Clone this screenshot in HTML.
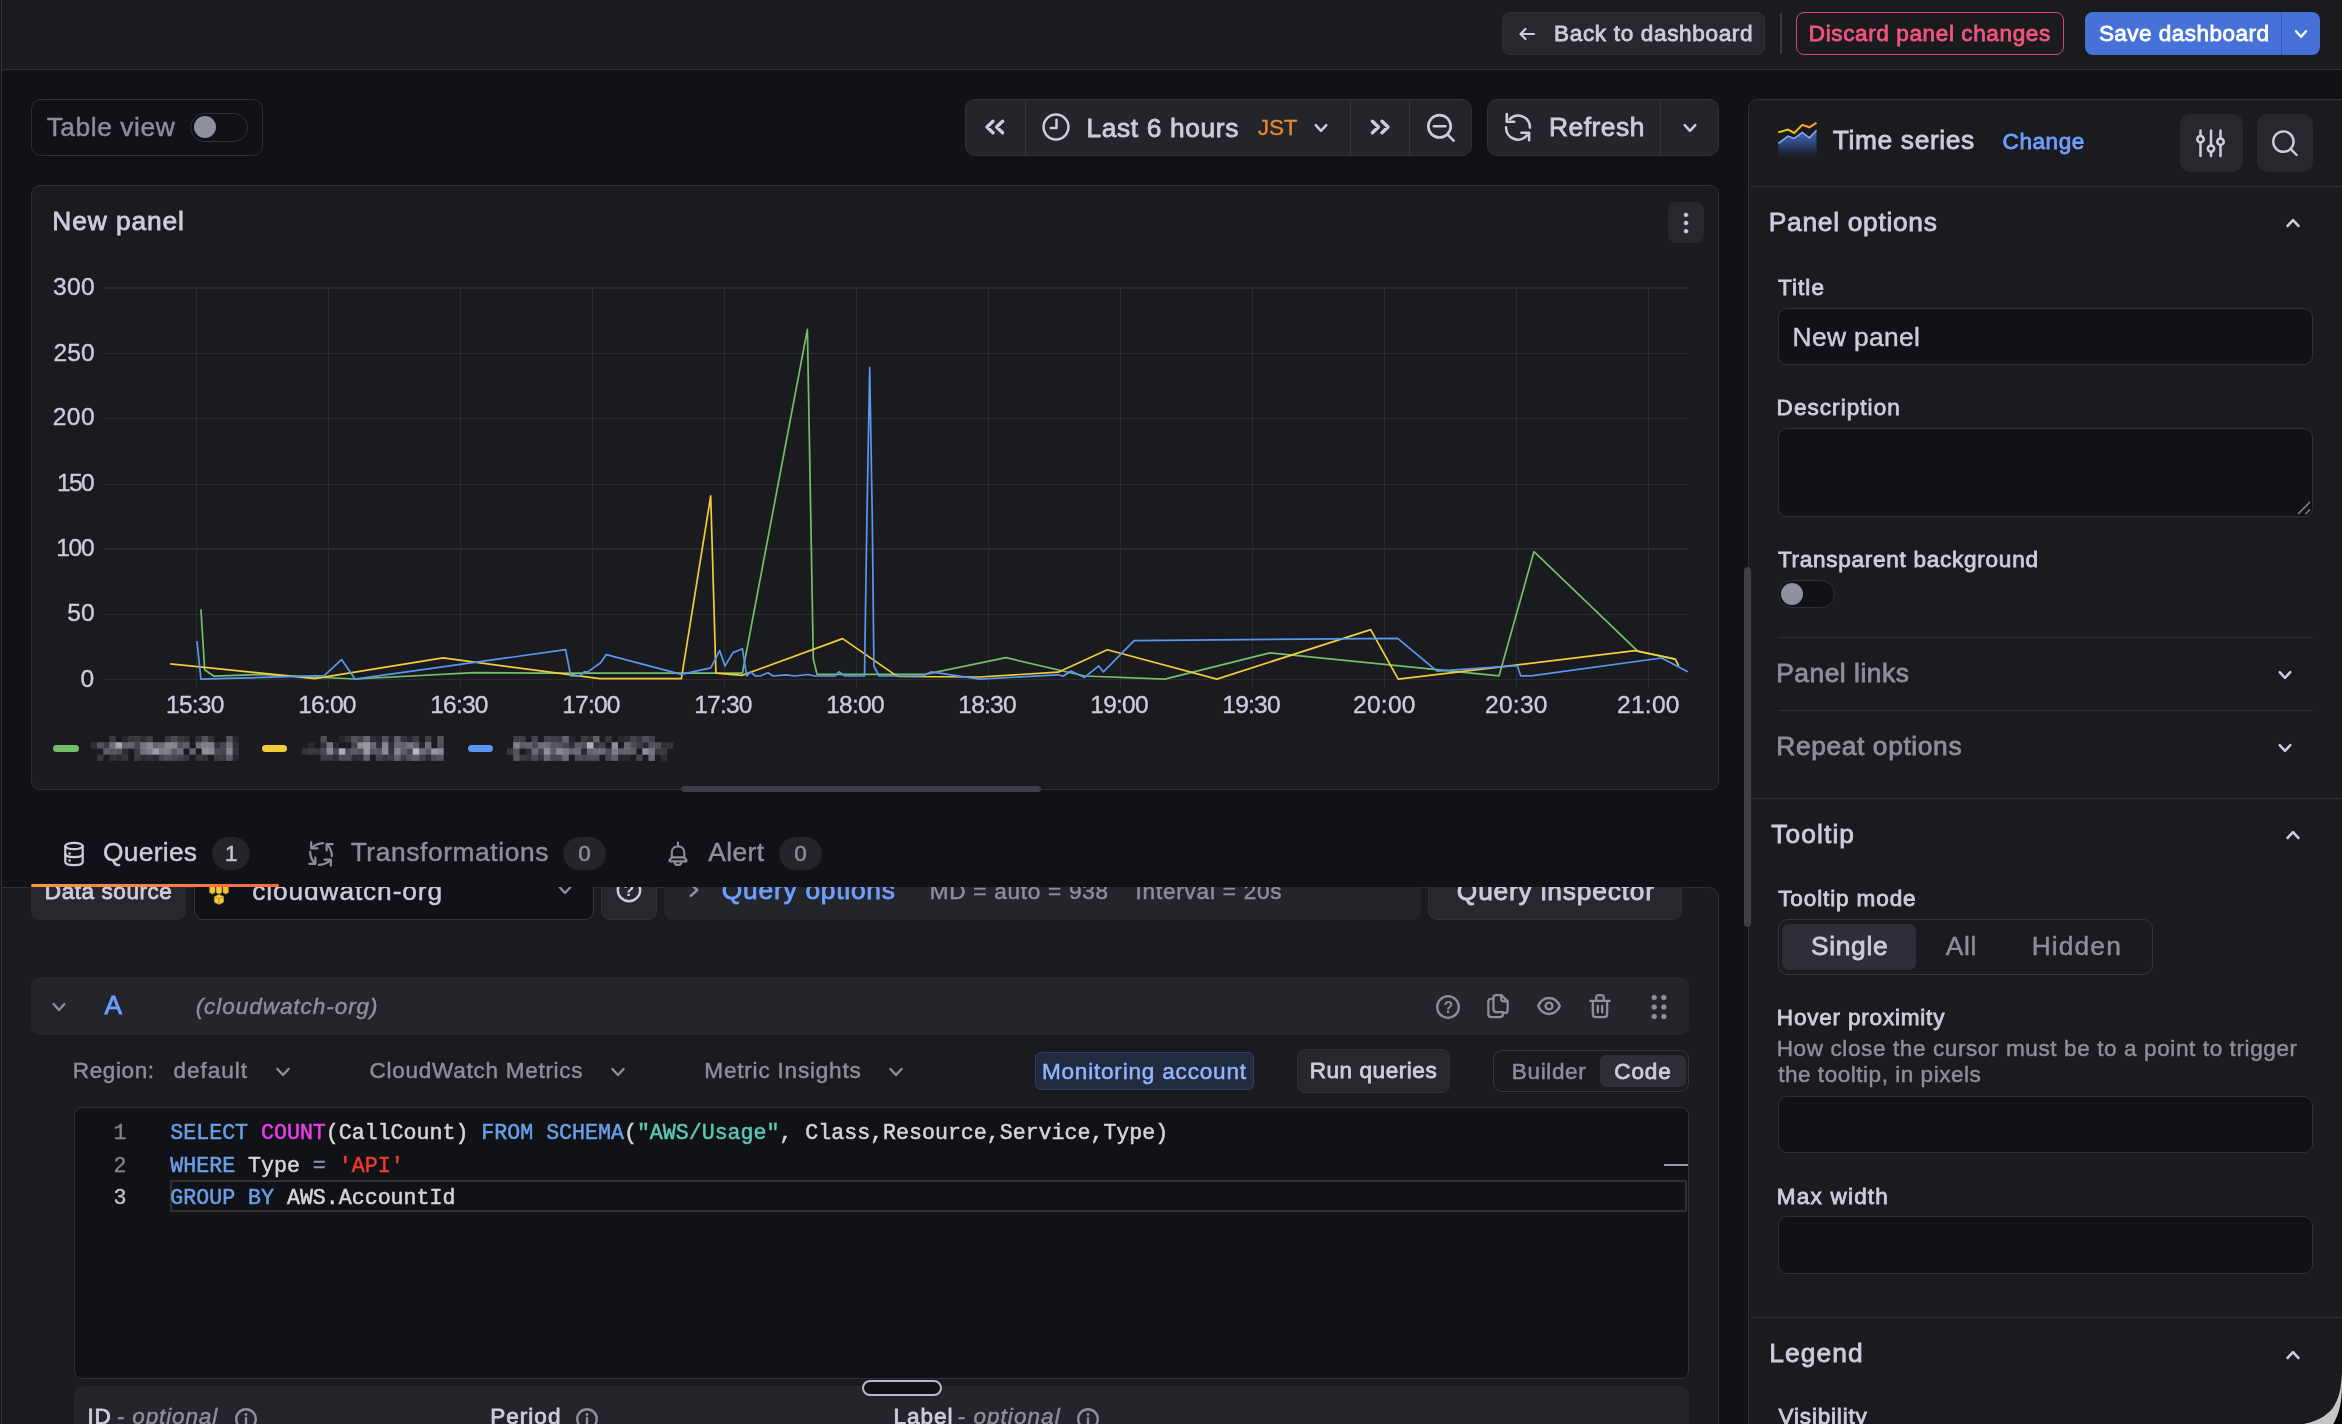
<!DOCTYPE html>
<html lang="en"><head><meta charset="utf-8"><title>Edit panel - Grafana</title><style>
html,body{margin:0;padding:0;background:#111217;}
body{width:2342px;height:1424px;overflow:hidden;position:relative;font-family:'Liberation Sans', sans-serif;}
.w{position:absolute;left:0;top:0;width:2342px;height:1424px;overflow:hidden;will-change:transform;}
.b{position:absolute;box-sizing:border-box;display:block;}
.t{position:absolute;white-space:pre;line-height:1;}
.clip{position:absolute;overflow:hidden;}
</style></head>
<body>
<div class="w">
<div class="b " style="left:1px;top:887px;width:1718px;height:557px;background:#1a1b1f;border:1px solid #2e2f36;border-radius:0 10px 0 0;"></div>
<div class="b " style="left:31px;top:860px;width:155px;height:60px;background:#27282e;border-radius:8px;"></div>
<div class="t" id="t0" style="top:881.00px;font-size:22.57px;color:#ccccdc;-webkit-text-stroke-width:0.8px;letter-spacing:0.541px;left:44.85px;">Data source</div>
<div class="b " style="left:194px;top:860px;width:400px;height:60px;background:#111217;border:1px solid #36373e;border-radius:9px;"></div>
<svg class="b" style="left:208px;top:876px;" width="22" height="30" viewBox="0 0 22 30"><g stroke="#c9981a" stroke-width="0.5"><path d="M1.6,0 h5.4 v16.6 l-2.7,1.5 l-2.7,-1.5z" fill="#f5c330"/><path d="M8.2,0 h5.6 v16.6 l-2.8,1.5 l-2.8,-1.5z" fill="#f7cb3c"/><path d="M15,0 h5.4 v16.6 l-2.7,1.5 l-2.7,-1.5z" fill="#f5c330"/><path d="M6.4,20.6 l4.6,-2.2 l4.6,2.2 v5.6 l-4.6,2.3 l-4.6,-2.3z" fill="#f7cb3c"/><path d="M6.4,20.6 l4.6,2.2 l4.6,-2.2 M11,22.8 v5.4" fill="none" stroke="#b98612" stroke-width="0.9"/></g></svg>
<div class="t" id="t1" style="top:878.00px;font-size:26.33px;color:#ccccdc;-webkit-text-stroke-width:0.45px;letter-spacing:0.871px;left:252.21px;">cloudwatch-org</div>
<svg class="b" style="left:545.0px;top:870.0px;overflow:visible" width="40" height="40" viewBox="-20.0 -20.0 40 40" fill="none" stroke="#8e8e9b" stroke-width="2.4" stroke-linecap="round" stroke-linejoin="round"><path d="M-5.4,-2.9700000000000006 L0,2.9700000000000006 L5.4,-2.9700000000000006"/></svg>
<div class="b " style="left:601px;top:860px;width:56px;height:60px;background:#27282e;border:1px solid #303138;border-radius:9px;"></div>
<svg class="b" style="left:609.0px;top:869.5px;overflow:visible" width="40" height="40" viewBox="-20.0 -20.0 40 40" fill="none" stroke="#ccccdc" stroke-width="2.4" stroke-linecap="round" stroke-linejoin="round"><circle cx="0" cy="0" r="11.2"/></svg>
<div class="t" id="t2" style="top:882.00px;font-size:17px;color:#ccccdc;font-weight:700;left:329.00px;width:600px;text-align:center;">?</div>
<div class="b " style="left:664px;top:860px;width:757px;height:60px;background:#24252b;border-radius:9px;"></div>
<svg class="b" style="left:673.5px;top:870.0px;overflow:visible" width="40" height="40" viewBox="-20.0 -20.0 40 40" fill="none" stroke="#8e8e9b" stroke-width="2.4" stroke-linecap="round" stroke-linejoin="round"><path d="M-3.3000000000000003,-6 L3.3000000000000003,0 L-3.3000000000000003,6"/></svg>
<div class="t" id="t3" style="top:877.00px;font-size:26.33px;color:#6e9fff;-webkit-text-stroke-width:0.8px;letter-spacing:0.766px;left:721.85px;">Query options</div>
<div class="t" id="t4" style="top:881.00px;font-size:22.57px;color:#8e8e9b;-webkit-text-stroke-width:0.45px;letter-spacing:0.736px;left:929.77px;">MD = auto = 938</div>
<div class="t" id="t5" style="top:881.00px;font-size:22.57px;color:#8e8e9b;-webkit-text-stroke-width:0.45px;letter-spacing:0.767px;left:1135.54px;">Interval = 20s</div>
<div class="b " style="left:1428px;top:860px;width:254px;height:60px;background:#27282e;border:1px solid #303138;border-radius:9px;"></div>
<div class="t" id="t6" style="top:878.00px;font-size:26.33px;color:#ccccdc;-webkit-text-stroke-width:0.8px;letter-spacing:0.810px;left:1456.85px;">Query inspector</div>
<div class="b " style="left:31px;top:977px;width:1658px;height:58px;background:#24252b;border-radius:9px;"></div>
<svg class="b" style="left:39.3px;top:986.5px;overflow:visible" width="40" height="40" viewBox="-20.0 -20.0 40 40" fill="none" stroke="#8e8e9b" stroke-width="2.4" stroke-linecap="round" stroke-linejoin="round"><path d="M-5.4,-2.9700000000000006 L0,2.9700000000000006 L5.4,-2.9700000000000006"/></svg>
<div class="t" id="t7" style="top:992.00px;font-size:26.33px;color:#6e9fff;-webkit-text-stroke-width:0.8px;left:104.55px;">A</div>
<div class="t" id="t8" style="top:996.00px;font-size:22.57px;color:#8e8e9b;-webkit-text-stroke-width:0.45px;font-style:italic;letter-spacing:0.928px;left:195.67px;">(cloudwatch-org)</div>
<svg class="b" style="left:1428.4px;top:986.5px;overflow:visible" width="40" height="40" viewBox="-20.0 -20.0 40 40" fill="none" stroke="#8e8e9b" stroke-width="2.3" stroke-linecap="round" stroke-linejoin="round"><circle cx="0" cy="0" r="10.8"/></svg>
<div class="t" id="t9" style="top:1000.00px;font-size:16px;color:#8e8e9b;font-weight:700;left:1148.40px;width:600px;text-align:center;">?</div>
<svg class="b" style="left:1478.3px;top:986.4px;overflow:visible" width="40" height="40" viewBox="-20.0 -20.0 40 40" fill="none" stroke="#8e8e9b" stroke-width="2.4" stroke-linecap="round" stroke-linejoin="round"><g transform="scale(0.93)"><path d="M-5,-8 V-8.5 C-5,-10.6 -3.8,-11.8 -1.8,-11.8 H3.6 L10.4,-5 V4.2 C10.4,6.3 9.2,7.5 7.2,7.5 H5.5"/><path d="M3.4,-11.6 V-7.8 C3.4,-5.9 4.4,-4.9 6.3,-4.9 H10.2"/><path d="M-10.4,-4.5 C-10.4,-6.6 -9.2,-7.8 -7.2,-7.8 H-4.9 V3.2 C-4.9,5.3 -3.7,6.5 -1.7,6.5 H5.4 V8.6 C5.4,10.7 4.2,11.9 2.2,11.9 H-7.2 C-9.2,11.9 -10.4,10.7 -10.4,8.6 Z"/></g></svg>
<svg class="b" style="left:1529.4px;top:986.4px;overflow:visible" width="40" height="40" viewBox="-20.0 -20.0 40 40" fill="none" stroke="#8e8e9b" stroke-width="2.4" stroke-linecap="round" stroke-linejoin="round"><path d="M-10.8,0 C-6,-10.6 6,-10.6 10.8,0 C6,10.6 -6,10.6 -10.8,0 Z"/><circle cx="0" cy="0" r="3.4"/></svg>
<svg class="b" style="left:1579.5px;top:986.4px;overflow:visible" width="40" height="40" viewBox="-20.0 -20.0 40 40" fill="none" stroke="#8e8e9b" stroke-width="2.5" stroke-linecap="round" stroke-linejoin="round"><g transform="scale(0.94)"><path d="M-10.2,-5.4 H10.2"/><path d="M-4,-5.6 V-9 C-4,-10.7 -3,-11.6 -1.4,-11.6 H1.4 C3,-11.6 4,-10.7 4,-9 V-5.6"/><path d="M-7.6,-5.2 V8.4 C-7.6,10.7 -6.4,11.9 -4.2,11.9 H4.2 C6.4,11.9 7.6,10.7 7.6,8.4 V-5.2"/><path d="M-2.3,-0.2 V6.6 M2.3,-0.2 V6.6"/></g></svg>
<svg class="b" style="left:1639.0px;top:987.0px;overflow:visible" width="40" height="40" viewBox="-20.0 -20.0 40 40" fill="#8e8e9b" stroke="#8e8e9b" stroke-width="0.3" stroke-linecap="round" stroke-linejoin="round"><circle cx="-4.8" cy="-9.5" r="2.5"/><circle cx="-4.8" cy="0" r="2.5"/><circle cx="-4.8" cy="9.5" r="2.5"/><circle cx="4.8" cy="-9.5" r="2.5"/><circle cx="4.8" cy="0" r="2.5"/><circle cx="4.8" cy="9.5" r="2.5"/></svg>
<div class="t" id="t10" style="top:1060.00px;font-size:22.57px;color:#8e8e9b;-webkit-text-stroke-width:0.45px;letter-spacing:0.599px;left:72.77px;">Region:</div>
<div class="t" id="t11" style="top:1060.00px;font-size:22.57px;color:#8e8e9b;-webkit-text-stroke-width:0.45px;letter-spacing:0.970px;left:173.38px;">default</div>
<svg class="b" style="left:262.5px;top:1051.5px;overflow:visible" width="40" height="40" viewBox="-20.0 -20.0 40 40" fill="none" stroke="#8e8e9b" stroke-width="2.3" stroke-linecap="round" stroke-linejoin="round"><path d="M-5.6,-3.08 L0,3.08 L5.6,-3.08"/></svg>
<div class="t" id="t12" style="top:1060.00px;font-size:22.57px;color:#8e8e9b;-webkit-text-stroke-width:0.45px;letter-spacing:0.705px;left:369.58px;">CloudWatch Metrics</div>
<svg class="b" style="left:597.5px;top:1051.5px;overflow:visible" width="40" height="40" viewBox="-20.0 -20.0 40 40" fill="none" stroke="#8e8e9b" stroke-width="2.3" stroke-linecap="round" stroke-linejoin="round"><path d="M-5.6,-3.08 L0,3.08 L5.6,-3.08"/></svg>
<div class="t" id="t13" style="top:1060.00px;font-size:22.57px;color:#8e8e9b;-webkit-text-stroke-width:0.45px;letter-spacing:0.784px;left:704.37px;">Metric Insights</div>
<svg class="b" style="left:875.6px;top:1051.5px;overflow:visible" width="40" height="40" viewBox="-20.0 -20.0 40 40" fill="none" stroke="#8e8e9b" stroke-width="2.3" stroke-linecap="round" stroke-linejoin="round"><path d="M-5.6,-3.08 L0,3.08 L5.6,-3.08"/></svg>
<div class="b " style="left:1035px;top:1052px;width:219px;height:38px;background:#212a3f;border:1px solid #2e3e66;border-radius:6px;"></div>
<div class="t" id="t14" style="top:1061.00px;font-size:22.57px;color:#93b5ff;-webkit-text-stroke-width:0.5px;letter-spacing:0.793px;left:1041.90px;">Monitoring account</div>
<div class="b " style="left:1297px;top:1049px;width:153px;height:44px;background:#27282e;border:1px solid #303138;border-radius:8px;"></div>
<div class="t" id="t15" style="top:1060.00px;font-size:22.57px;color:#ccccdc;-webkit-text-stroke-width:0.8px;letter-spacing:0.541px;left:1309.65px;">Run queries</div>
<div class="b " style="left:1493px;top:1050px;width:196px;height:42px;border:1px solid #36373e;border-radius:9px;"></div>
<div class="t" id="t16" style="top:1061.00px;font-size:22.57px;color:#8e8e9b;-webkit-text-stroke-width:0.5px;letter-spacing:0.616px;left:1511.80px;">Builder</div>
<div class="b " style="left:1600px;top:1055px;width:86px;height:32px;background:#2e2f36;border-radius:6px;"></div>
<div class="t" id="t17" style="top:1061.00px;font-size:22.57px;color:#ccccdc;-webkit-text-stroke-width:0.8px;letter-spacing:0.870px;left:1614.25px;">Code</div>
<div class="b " style="left:74px;top:1107px;width:1615px;height:272px;background:#111217;border:1px solid #303138;border-radius:8px;"></div>
<div class="b " style="left:170px;top:1180px;width:1517px;height:32px;border:2px solid #303033;"></div>
<div class="t" id="t18" style="top:1123.00px;font-size:21.6px;color:#d6d6d6;font-family:'Liberation Mono', monospace;-webkit-text-stroke-width:0.5px;left:170.30px;"><span style="color:#6a9fe6">SELECT</span> <span style="color:#e83fe8">COUNT</span><span style="color:#d6d6d6">(CallCount) </span><span style="color:#6a9fe6">FROM</span> <span style="color:#6a9fe6">SCHEMA</span><span style="color:#d6d6d6">(</span><span style="color:#5ec9ad">&quot;AWS/Usage&quot;</span><span style="color:#d6d6d6">, Class,Resource,Service,Type)</span></div>
<div class="t" id="t19" style="top:1123.00px;font-size:21.6px;color:#858585;font-family:'Liberation Mono', monospace;-webkit-text-stroke-width:0.3px;right:2215.50px;">1</div>
<div class="t" id="t20" style="top:1156.00px;font-size:21.6px;color:#d6d6d6;font-family:'Liberation Mono', monospace;-webkit-text-stroke-width:0.5px;left:170.30px;"><span style="color:#6a9fe6">WHERE</span><span style="color:#d6d6d6"> Type </span><span style="color:#8a95a5">=</span> <span style="color:#f2392c">'API'</span></div>
<div class="t" id="t21" style="top:1156.00px;font-size:21.6px;color:#858585;font-family:'Liberation Mono', monospace;-webkit-text-stroke-width:0.3px;right:2215.50px;">2</div>
<div class="t" id="t22" style="top:1188.00px;font-size:21.6px;color:#d6d6d6;font-family:'Liberation Mono', monospace;-webkit-text-stroke-width:0.5px;left:170.30px;"><span style="color:#6a9fe6">GROUP BY</span><span style="color:#d6d6d6"> AWS.AccountId</span></div>
<div class="t" id="t23" style="top:1188.00px;font-size:21.6px;color:#c6c6c6;font-family:'Liberation Mono', monospace;-webkit-text-stroke-width:0.3px;right:2215.50px;">3</div>
<div class="b " style="left:1664px;top:1164px;width:24px;height:2px;background:#9a9aa6;"></div>
<div class="b " style="left:74px;top:1386px;width:1615px;height:58px;background:#24252b;border-radius:9px;"></div>
<div class="t" id="t24" style="top:1406.00px;font-size:22.57px;color:#ccccdc;-webkit-text-stroke-width:0.8px;letter-spacing:0.800px;left:87.42px;">ID</div>
<div class="t" id="t25" style="top:1406.00px;font-size:22.57px;color:#8e8e9b;-webkit-text-stroke-width:0.45px;font-style:italic;letter-spacing:0.854px;left:116.77px;">- optional</div>
<div class="t" id="t26" style="top:1406.00px;font-size:22.57px;color:#ccccdc;-webkit-text-stroke-width:0.8px;letter-spacing:0.997px;left:490.25px;">Period</div>
<div class="t" id="t27" style="top:1406.00px;font-size:22.57px;color:#ccccdc;-webkit-text-stroke-width:0.8px;letter-spacing:0.939px;left:893.55px;">Label</div>
<div class="t" id="t28" style="top:1406.00px;font-size:22.57px;color:#8e8e9b;-webkit-text-stroke-width:0.45px;font-style:italic;letter-spacing:1.031px;left:957.57px;">- optional</div>
<svg class="b" style="left:225.5px;top:1398.6px;overflow:visible" width="40" height="40" viewBox="-20.0 -20.0 40 40" fill="none" stroke="#8e8e9b" stroke-width="2.4" stroke-linecap="round" stroke-linejoin="round"><circle cx="0" cy="0" r="9.8"/><path d="M0,-1 V5"/><path d="M0,-4.6 v0.1" stroke-width="2.8"/></svg>
<svg class="b" style="left:566.8px;top:1398.6px;overflow:visible" width="40" height="40" viewBox="-20.0 -20.0 40 40" fill="none" stroke="#8e8e9b" stroke-width="2.4" stroke-linecap="round" stroke-linejoin="round"><circle cx="0" cy="0" r="9.8"/><path d="M0,-1 V5"/><path d="M0,-4.6 v0.1" stroke-width="2.8"/></svg>
<svg class="b" style="left:1067.6px;top:1398.6px;overflow:visible" width="40" height="40" viewBox="-20.0 -20.0 40 40" fill="none" stroke="#8e8e9b" stroke-width="2.4" stroke-linecap="round" stroke-linejoin="round"><circle cx="0" cy="0" r="9.8"/><path d="M0,-1 V5"/><path d="M0,-4.6 v0.1" stroke-width="2.8"/></svg>
<div class="b " style="left:862px;top:1380px;width:80px;height:16px;background:#111217;border:2px solid #b9b9c6;border-radius:8px;"></div>
<div class="b " style="left:0px;top:0px;width:2342px;height:70px;background:#1a1b1f;border-bottom:1px solid #2e2f36;"></div>
<div class="b " style="left:0px;top:0px;width:3px;height:1424px;border-right:1px solid #2f3037;background:#16171b;width:2px;"></div>
<div class="b " style="left:1502px;top:12px;width:263px;height:43px;background:#27282e;border:1px solid #303138;border-radius:8px;"></div>
<svg class="b" style="left:1507.0px;top:13.5px;overflow:visible" width="40" height="40" viewBox="-20.0 -20.0 40 40" fill="none" stroke="#ccccdc" stroke-width="2.2" stroke-linecap="round" stroke-linejoin="round"><path d="M7,0 H-6.5 M-1.5,-5 L-6.5,0 L-1.5,5"/></svg>
<div class="t" id="t29" style="top:23.00px;font-size:22.57px;color:#ccccdc;-webkit-text-stroke-width:0.8px;letter-spacing:0.648px;left:1554.05px;">Back to dashboard</div>
<div class="b " style="left:1780px;top:13px;width:2px;height:41px;background:#3a3b42;"></div>
<div class="b " style="left:1796px;top:12px;width:268px;height:43px;border:1px solid #d9456f;border-radius:8px;"></div>
<div class="t" id="t30" style="top:23.00px;font-size:22.57px;color:#f2557f;-webkit-text-stroke-width:0.8px;letter-spacing:0.592px;left:1808.85px;">Discard panel changes</div>
<div class="b " style="left:2085px;top:12px;width:235px;height:43px;background:#4671d6;border-radius:8px;"></div>
<div class="b " style="left:2281px;top:12px;width:1px;height:43px;background:#3459b3;"></div>
<div class="t" id="t31" style="top:23.00px;font-size:22.57px;color:#ffffff;-webkit-text-stroke-width:0.8px;letter-spacing:0.450px;left:2098.88px;">Save dashboard</div>
<svg class="b" style="left:2281.0px;top:14.0px;overflow:visible" width="40" height="40" viewBox="-20.0 -20.0 40 40" fill="none" stroke="#ffffff" stroke-width="2.4" stroke-linecap="round" stroke-linejoin="round"><path d="M-5,-2.75 L0,2.75 L5,-2.75"/></svg>
<div class="b " style="left:31px;top:99px;width:232px;height:57px;border:1px solid #2e2f36;border-radius:10px;"></div>
<div class="t" id="t32" style="top:114.00px;font-size:26.33px;color:#8e8e9b;-webkit-text-stroke-width:0.45px;letter-spacing:0.573px;left:46.63px;">Table view</div>
<div class="b " style="left:190px;top:113px;width:58px;height:29px;background:#111217;border:1px solid #303138;border-radius:15px;"></div>
<div class="b " style="left:194px;top:116px;width:22px;height:22px;background:#8f909d;border-radius:11px;"></div>
<div class="b " style="left:965px;top:99px;width:507px;height:57px;background:#24252b;border:1px solid #303138;border-radius:10px;"></div>
<div class="b " style="left:1025px;top:100px;width:1px;height:55px;background:#36373e;"></div>
<div class="b " style="left:1350px;top:100px;width:1px;height:55px;background:#36373e;"></div>
<div class="b " style="left:1409px;top:100px;width:1px;height:55px;background:#36373e;"></div>
<svg class="b" style="left:974.5px;top:107.3px;overflow:visible" width="40" height="40" viewBox="-20.0 -20.0 40 40" fill="none" stroke="#ccccdc" stroke-width="3.4" stroke-linecap="round" stroke-linejoin="round"><path d="M-2,-5.8 L-8,0 L-2,5.8 M7.6,-5.8 L1.6,0 L7.6,5.8"/></svg>
<svg class="b" style="left:1036.2px;top:107.1px;overflow:visible" width="40" height="40" viewBox="-20.0 -20.0 40 40" fill="none" stroke="#ccccdc" stroke-width="2.5" stroke-linecap="round" stroke-linejoin="round"><circle cx="0" cy="0" r="12.4"/><path d="M0.5,-7.3 V1 H-5.2"/></svg>
<div class="t" id="t33" style="top:115.00px;font-size:26.33px;color:#ccccdc;-webkit-text-stroke-width:0.8px;letter-spacing:0.638px;left:1086.44px;">Last 6 hours</div>
<div class="t" id="t34" style="top:117.00px;font-size:22.57px;color:#e8882f;-webkit-text-stroke-width:0.3px;letter-spacing:-0.171px;left:1257.80px;">JST</div>
<svg class="b" style="left:1300.5px;top:107.8px;overflow:visible" width="40" height="40" viewBox="-20.0 -20.0 40 40" fill="none" stroke="#ccccdc" stroke-width="2.4" stroke-linecap="round" stroke-linejoin="round"><path d="M-5.3,-2.915 L0,2.915 L5.3,-2.915"/></svg>
<svg class="b" style="left:1359.7px;top:107.3px;overflow:visible" width="40" height="40" viewBox="-20.0 -20.0 40 40" fill="none" stroke="#ccccdc" stroke-width="3.4" stroke-linecap="round" stroke-linejoin="round"><path d="M2,-5.8 L8,0 L2,5.8 M-7.6,-5.8 L-1.6,0 L-7.6,5.8"/></svg>
<svg class="b" style="left:1421.0px;top:107.5px;overflow:visible" width="40" height="40" viewBox="-20.0 -20.0 40 40" fill="none" stroke="#ccccdc" stroke-width="2.6" stroke-linecap="round" stroke-linejoin="round"><circle cx="-1.5" cy="-1.7" r="11.2"/><path d="M7,7 L12.6,12.6 M-7.2,-1.7 H4.5"/></svg>
<div class="b " style="left:1487px;top:99px;width:232px;height:57px;background:#24252b;border:1px solid #303138;border-radius:10px;"></div>
<div class="b " style="left:1660px;top:100px;width:1px;height:55px;background:#36373e;"></div>
<svg class="b" style="left:1498.3px;top:106.9px;overflow:visible" width="40" height="40" viewBox="-20.0 -20.0 40 40" fill="none" stroke="#ccccdc" stroke-width="2.6" stroke-linecap="round" stroke-linejoin="round"><path d="M-8.2,-7.9 A11.8,11.8 0 0 1 11.9,0.6"/><path d="M8.9,8.4 A11.8,11.8 0 0 1 -11.9,0.4"/><path d="M-11.2,-13 V-5.2 H-3.8"/><path d="M11.1,13.2 V5.7 H3.4"/></svg>
<div class="t" id="t35" style="top:114.00px;font-size:26.33px;color:#ccccdc;-webkit-text-stroke-width:0.8px;letter-spacing:0.514px;left:1549.04px;">Refresh</div>
<svg class="b" style="left:1669.5px;top:107.8px;overflow:visible" width="40" height="40" viewBox="-20.0 -20.0 40 40" fill="none" stroke="#ccccdc" stroke-width="2.4" stroke-linecap="round" stroke-linejoin="round"><path d="M-5.3,-2.915 L0,2.915 L5.3,-2.915"/></svg>
<div class="b " style="left:31px;top:185px;width:1688px;height:605px;background:#1a1b1f;border:1px solid #2e2f36;border-radius:9px;"></div>
<div class="t" id="t36" style="top:208.00px;font-size:26.33px;color:#ccccdc;-webkit-text-stroke-width:0.8px;letter-spacing:0.915px;left:52.24px;">New panel</div>
<div class="b " style="left:1668px;top:202px;width:36px;height:41px;background:#27282e;border-radius:8px;"></div>
<svg class="b" style="left:1666.0px;top:202.7px;overflow:visible" width="40" height="40" viewBox="-20.0 -20.0 40 40" fill="#ccccdc" stroke="#ccccdc" stroke-width="0.6" stroke-linecap="round" stroke-linejoin="round"><circle cx="0" cy="-8.2" r="1.9"/><circle cx="0" cy="0" r="1.9"/><circle cx="0" cy="8.2" r="1.9"/></svg>
<svg class="b" style="left:0px;top:260px;" width="1720" height="440" viewBox="0 260 1720 440"><g stroke="#2a2b31" stroke-width="1.1" fill="none" shape-rendering="crispEdges"><line x1="104" y1="288.0" x2="1688" y2="288.0"/><line x1="104" y1="353.3" x2="1688" y2="353.3"/><line x1="104" y1="418.1" x2="1688" y2="418.1"/><line x1="104" y1="484.1" x2="1688" y2="484.1"/><line x1="104" y1="549.0" x2="1688" y2="549.0"/><line x1="104" y1="614.2" x2="1688" y2="614.2"/><line x1="104" y1="679.4" x2="1688" y2="679.4"/><line x1="196.1" y1="288" x2="196.1" y2="687"/><line x1="328.1" y1="288" x2="328.1" y2="687"/><line x1="460.2" y1="288" x2="460.2" y2="687"/><line x1="592.2" y1="288" x2="592.2" y2="687"/><line x1="724.2" y1="288" x2="724.2" y2="687"/><line x1="856.2" y1="288" x2="856.2" y2="687"/><line x1="988.3" y1="288" x2="988.3" y2="687"/><line x1="1120.3" y1="288" x2="1120.3" y2="687"/><line x1="1252.3" y1="288" x2="1252.3" y2="687"/><line x1="1384.4" y1="288" x2="1384.4" y2="687"/><line x1="1516.4" y1="288" x2="1516.4" y2="687"/><line x1="1648.4" y1="288" x2="1648.4" y2="687"/></g><polyline points="200.9,609.4 204.7,669.7 214.0,676.2 259.3,674.4 355.0,679.0 474.5,672.7 540.0,673.1 742.4,673.1 807.4,329.4 813.3,658.6 817.0,674.4 864.5,674.4 925.0,674.4 1006.0,657.7 1084.6,676.0 1164.8,679.1 1269.9,652.9 1499.0,675.9 1534.0,551.6 1637.7,651.2 1675.3,659.2" fill="none" stroke="#73bf69" stroke-width="1.7" stroke-linejoin="round" stroke-linecap="butt"/><polyline points="170.2,663.9 314.8,678.7 442.9,657.9 599.8,678.7 681.4,678.7 710.7,495.9 715.9,673.1 742.4,675.3 842.6,638.6 894.4,674.4 898.7,676.5 979.5,677.0 1058.1,672.2 1107.3,649.7 1216.9,679.1 1370.7,629.6 1398.2,679.2 1635.1,650.7 1675.3,659.2 1678.7,666.0" fill="none" stroke="#f2cd3a" stroke-width="1.7" stroke-linejoin="round" stroke-linecap="butt"/><polyline points="197.0,641.1 200.9,679.1 324.2,675.6 341.6,659.6 355.0,679.1 565.6,649.7 570.7,676.0 579.3,676.0 584.1,671.9 587.8,671.9 600.6,662.8 606.3,654.6 681.4,674.4 710.8,667.8 719.7,650.7 725.0,665.9 733.0,652.6 742.4,648.7 746.7,676.0 750.4,671.9 755.5,676.0 760.0,676.0 768.0,672.7 773.1,676.0 786.0,674.8 795.0,676.0 808.0,674.5 815.0,676.0 835.0,676.0 838.9,671.7 845.0,676.0 864.5,676.0 866.9,520.0 869.7,367.3 872.3,520.0 873.9,666.2 879.0,676.0 922.6,676.0 931.1,671.9 979.5,679.1 1058.1,674.8 1063.2,676.2 1070.9,671.0 1084.6,677.4 1098.7,665.9 1103.4,671.9 1134.1,640.6 1397.7,638.4 1437.0,671.2 1517.3,665.7 1520.7,675.8 1530.9,675.8 1661.6,658.0 1687.7,671.7" fill="none" stroke="#5b96f0" stroke-width="1.7" stroke-linejoin="round" stroke-linecap="butt"/></svg>
<div class="t" id="t37" style="top:275.00px;font-size:24.56px;color:#ccccdc;-webkit-text-stroke-width:0.35px;letter-spacing:0.395px;left:52.94px;">300</div>
<div class="t" id="t38" style="top:341.00px;font-size:24.56px;color:#ccccdc;-webkit-text-stroke-width:0.35px;letter-spacing:0.145px;left:53.44px;">250</div>
<div class="t" id="t39" style="top:405.00px;font-size:24.56px;color:#ccccdc;-webkit-text-stroke-width:0.35px;letter-spacing:0.545px;left:52.64px;">200</div>
<div class="t" id="t40" style="top:471.00px;font-size:24.56px;color:#ccccdc;-webkit-text-stroke-width:0.35px;letter-spacing:-1.588px;left:56.90px;">150</div>
<div class="t" id="t41" style="top:536.00px;font-size:24.56px;color:#ccccdc;-webkit-text-stroke-width:0.35px;letter-spacing:-1.238px;left:56.20px;">100</div>
<div class="t" id="t42" style="top:601.00px;font-size:24.56px;color:#ccccdc;-webkit-text-stroke-width:0.35px;letter-spacing:0.089px;left:67.29px;">50</div>
<div class="t" id="t43" style="top:667.00px;font-size:24.56px;color:#ccccdc;-webkit-text-stroke-width:0.35px;left:80.62px;">0</div>
<div class="t" id="t44" style="top:693.00px;font-size:24.56px;color:#ccccdc;-webkit-text-stroke-width:0.35px;letter-spacing:-0.787px;left:166.10px;">15:30</div>
<div class="t" id="t45" style="top:693.00px;font-size:24.56px;color:#ccccdc;-webkit-text-stroke-width:0.35px;letter-spacing:-0.787px;left:298.13px;">16:00</div>
<div class="t" id="t46" style="top:693.00px;font-size:24.56px;color:#ccccdc;-webkit-text-stroke-width:0.35px;letter-spacing:-0.787px;left:430.16px;">16:30</div>
<div class="t" id="t47" style="top:693.00px;font-size:24.56px;color:#ccccdc;-webkit-text-stroke-width:0.35px;letter-spacing:-0.787px;left:562.19px;">17:00</div>
<div class="t" id="t48" style="top:693.00px;font-size:24.56px;color:#ccccdc;-webkit-text-stroke-width:0.35px;letter-spacing:-0.787px;left:694.22px;">17:30</div>
<div class="t" id="t49" style="top:693.00px;font-size:24.56px;color:#ccccdc;-webkit-text-stroke-width:0.35px;letter-spacing:-0.787px;left:826.25px;">18:00</div>
<div class="t" id="t50" style="top:693.00px;font-size:24.56px;color:#ccccdc;-webkit-text-stroke-width:0.35px;letter-spacing:-0.787px;left:958.28px;">18:30</div>
<div class="t" id="t51" style="top:693.00px;font-size:24.56px;color:#ccccdc;-webkit-text-stroke-width:0.35px;letter-spacing:-0.787px;left:1090.31px;">19:00</div>
<div class="t" id="t52" style="top:693.00px;font-size:24.56px;color:#ccccdc;-webkit-text-stroke-width:0.35px;letter-spacing:-0.787px;left:1222.34px;">19:30</div>
<div class="t" id="t53" style="top:693.00px;font-size:24.56px;color:#ccccdc;-webkit-text-stroke-width:0.35px;letter-spacing:0.254px;left:1353.01px;">20:00</div>
<div class="t" id="t54" style="top:693.00px;font-size:24.56px;color:#ccccdc;-webkit-text-stroke-width:0.35px;letter-spacing:0.254px;left:1485.04px;">20:30</div>
<div class="t" id="t55" style="top:693.00px;font-size:24.56px;color:#ccccdc;-webkit-text-stroke-width:0.35px;letter-spacing:0.254px;left:1617.07px;">21:00</div>
<div class="b " style="left:53px;top:745px;width:26px;height:7px;background:#73bf69;border-radius:3.5px;"></div>
<svg class="b" style="left:91px;top:735.7px;" width="152" height="26" viewBox="0 0 152 26"><rect x="0.0" y="6.2" width="6.4" height="6.4" fill="rgba(204,204,220,0.13)"/><rect x="6.2" y="6.2" width="6.4" height="6.4" fill="rgba(204,204,220,0.32)"/><rect x="6.2" y="18.5" width="6.4" height="6.4" fill="rgba(204,204,220,0.16)"/><rect x="12.3" y="6.2" width="6.4" height="6.4" fill="rgba(204,204,220,0.20)"/><rect x="12.3" y="12.3" width="6.4" height="6.4" fill="rgba(204,204,220,0.39)"/><rect x="18.5" y="0.0" width="6.4" height="6.4" fill="rgba(204,204,220,0.18)"/><rect x="18.5" y="6.2" width="6.4" height="6.4" fill="rgba(204,204,220,0.49)"/><rect x="18.5" y="12.3" width="6.4" height="6.4" fill="rgba(204,204,220,0.33)"/><rect x="18.5" y="18.5" width="6.4" height="6.4" fill="rgba(204,204,220,0.13)"/><rect x="24.6" y="6.2" width="6.4" height="6.4" fill="rgba(204,204,220,0.78)"/><rect x="24.6" y="12.3" width="6.4" height="6.4" fill="rgba(204,204,220,0.31)"/><rect x="24.6" y="18.5" width="6.4" height="6.4" fill="rgba(204,204,220,0.09)"/><rect x="30.8" y="0.0" width="6.4" height="6.4" fill="rgba(204,204,220,0.08)"/><rect x="30.8" y="6.2" width="6.4" height="6.4" fill="rgba(204,204,220,0.39)"/><rect x="30.8" y="12.3" width="6.4" height="6.4" fill="rgba(204,204,220,0.10)"/><rect x="30.8" y="18.5" width="6.4" height="6.4" fill="rgba(204,204,220,0.17)"/><rect x="36.9" y="0.0" width="6.4" height="6.4" fill="rgba(204,204,220,0.16)"/><rect x="36.9" y="6.2" width="6.4" height="6.4" fill="rgba(204,204,220,0.42)"/><rect x="43.1" y="0.0" width="6.4" height="6.4" fill="rgba(204,204,220,0.19)"/><rect x="43.1" y="6.2" width="6.4" height="6.4" fill="rgba(204,204,220,0.24)"/><rect x="43.1" y="12.3" width="6.4" height="6.4" fill="rgba(204,204,220,0.19)"/><rect x="43.1" y="18.5" width="6.4" height="6.4" fill="rgba(204,204,220,0.18)"/><rect x="49.2" y="0.0" width="6.4" height="6.4" fill="rgba(204,204,220,0.11)"/><rect x="49.2" y="6.2" width="6.4" height="6.4" fill="rgba(204,204,220,0.51)"/><rect x="49.2" y="12.3" width="6.4" height="6.4" fill="rgba(204,204,220,0.48)"/><rect x="49.2" y="18.5" width="6.4" height="6.4" fill="rgba(204,204,220,0.10)"/><rect x="55.4" y="0.0" width="6.4" height="6.4" fill="rgba(204,204,220,0.20)"/><rect x="55.4" y="6.2" width="6.4" height="6.4" fill="rgba(204,204,220,0.61)"/><rect x="55.4" y="12.3" width="6.4" height="6.4" fill="rgba(204,204,220,0.55)"/><rect x="55.4" y="18.5" width="6.4" height="6.4" fill="rgba(204,204,220,0.13)"/><rect x="61.5" y="6.2" width="6.4" height="6.4" fill="rgba(204,204,220,0.41)"/><rect x="61.5" y="12.3" width="6.4" height="6.4" fill="rgba(204,204,220,0.73)"/><rect x="61.5" y="18.5" width="6.4" height="6.4" fill="rgba(204,204,220,0.09)"/><rect x="67.7" y="6.2" width="6.4" height="6.4" fill="rgba(204,204,220,0.45)"/><rect x="67.7" y="12.3" width="6.4" height="6.4" fill="rgba(204,204,220,0.54)"/><rect x="67.7" y="18.5" width="6.4" height="6.4" fill="rgba(204,204,220,0.23)"/><rect x="73.8" y="0.0" width="6.4" height="6.4" fill="rgba(204,204,220,0.16)"/><rect x="73.8" y="6.2" width="6.4" height="6.4" fill="rgba(204,204,220,0.61)"/><rect x="73.8" y="12.3" width="6.4" height="6.4" fill="rgba(204,204,220,0.55)"/><rect x="73.8" y="18.5" width="6.4" height="6.4" fill="rgba(204,204,220,0.30)"/><rect x="80.0" y="0.0" width="6.4" height="6.4" fill="rgba(204,204,220,0.28)"/><rect x="80.0" y="6.2" width="6.4" height="6.4" fill="rgba(204,204,220,0.60)"/><rect x="80.0" y="12.3" width="6.4" height="6.4" fill="rgba(204,204,220,0.34)"/><rect x="80.0" y="18.5" width="6.4" height="6.4" fill="rgba(204,204,220,0.25)"/><rect x="86.1" y="0.0" width="6.4" height="6.4" fill="rgba(204,204,220,0.17)"/><rect x="86.1" y="6.2" width="6.4" height="6.4" fill="rgba(204,204,220,0.29)"/><rect x="86.1" y="12.3" width="6.4" height="6.4" fill="rgba(204,204,220,0.46)"/><rect x="86.1" y="18.5" width="6.4" height="6.4" fill="rgba(204,204,220,0.21)"/><rect x="92.2" y="0.0" width="6.4" height="6.4" fill="rgba(204,204,220,0.12)"/><rect x="92.2" y="6.2" width="6.4" height="6.4" fill="rgba(204,204,220,0.38)"/><rect x="92.2" y="18.5" width="6.4" height="6.4" fill="rgba(204,204,220,0.16)"/><rect x="98.4" y="12.3" width="6.4" height="6.4" fill="rgba(204,204,220,0.41)"/><rect x="104.6" y="0.0" width="6.4" height="6.4" fill="rgba(204,204,220,0.12)"/><rect x="104.6" y="6.2" width="6.4" height="6.4" fill="rgba(204,204,220,0.47)"/><rect x="104.6" y="18.5" width="6.4" height="6.4" fill="rgba(204,204,220,0.15)"/><rect x="110.7" y="0.0" width="6.4" height="6.4" fill="rgba(204,204,220,0.32)"/><rect x="110.7" y="6.2" width="6.4" height="6.4" fill="rgba(204,204,220,0.57)"/><rect x="110.7" y="12.3" width="6.4" height="6.4" fill="rgba(204,204,220,0.63)"/><rect x="110.7" y="18.5" width="6.4" height="6.4" fill="rgba(204,204,220,0.12)"/><rect x="116.9" y="0.0" width="6.4" height="6.4" fill="rgba(204,204,220,0.13)"/><rect x="116.9" y="6.2" width="6.4" height="6.4" fill="rgba(204,204,220,0.55)"/><rect x="116.9" y="12.3" width="6.4" height="6.4" fill="rgba(204,204,220,0.62)"/><rect x="123.0" y="6.2" width="6.4" height="6.4" fill="rgba(204,204,220,0.13)"/><rect x="123.0" y="12.3" width="6.4" height="6.4" fill="rgba(204,204,220,0.27)"/><rect x="123.0" y="18.5" width="6.4" height="6.4" fill="rgba(204,204,220,0.18)"/><rect x="129.2" y="6.2" width="6.4" height="6.4" fill="rgba(204,204,220,0.25)"/><rect x="129.2" y="12.3" width="6.4" height="6.4" fill="rgba(204,204,220,0.23)"/><rect x="129.2" y="18.5" width="6.4" height="6.4" fill="rgba(204,204,220,0.19)"/><rect x="135.3" y="0.0" width="6.4" height="6.4" fill="rgba(204,204,220,0.33)"/><rect x="135.3" y="6.2" width="6.4" height="6.4" fill="rgba(204,204,220,0.48)"/><rect x="135.3" y="12.3" width="6.4" height="6.4" fill="rgba(204,204,220,0.60)"/><rect x="135.3" y="18.5" width="6.4" height="6.4" fill="rgba(204,204,220,0.36)"/><rect x="141.5" y="0.0" width="6.4" height="6.4" fill="rgba(204,204,220,0.07)"/><rect x="141.5" y="6.2" width="6.4" height="6.4" fill="rgba(204,204,220,0.12)"/><rect x="141.5" y="12.3" width="6.4" height="6.4" fill="rgba(204,204,220,0.14)"/><rect x="141.5" y="18.5" width="6.4" height="6.4" fill="rgba(204,204,220,0.07)"/></svg>
<div class="b " style="left:262px;top:745px;width:25px;height:7px;background:#f2cd3a;border-radius:3.5px;"></div>
<svg class="b" style="left:302px;top:735.7px;" width="150" height="26" viewBox="0 0 150 26"><rect x="0.0" y="12.3" width="6.4" height="6.4" fill="rgba(204,204,220,0.15)"/><rect x="6.2" y="6.2" width="6.4" height="6.4" fill="rgba(204,204,220,0.09)"/><rect x="6.2" y="12.3" width="6.4" height="6.4" fill="rgba(204,204,220,0.18)"/><rect x="12.3" y="12.3" width="6.4" height="6.4" fill="rgba(204,204,220,0.17)"/><rect x="18.5" y="0.0" width="6.4" height="6.4" fill="rgba(204,204,220,0.29)"/><rect x="18.5" y="6.2" width="6.4" height="6.4" fill="rgba(204,204,220,0.15)"/><rect x="18.5" y="12.3" width="6.4" height="6.4" fill="rgba(204,204,220,0.26)"/><rect x="18.5" y="18.5" width="6.4" height="6.4" fill="rgba(204,204,220,0.19)"/><rect x="24.6" y="6.2" width="6.4" height="6.4" fill="rgba(204,204,220,0.51)"/><rect x="24.6" y="12.3" width="6.4" height="6.4" fill="rgba(204,204,220,0.61)"/><rect x="24.6" y="18.5" width="6.4" height="6.4" fill="rgba(204,204,220,0.17)"/><rect x="30.8" y="6.2" width="6.4" height="6.4" fill="rgba(204,204,220,0.08)"/><rect x="30.8" y="12.3" width="6.4" height="6.4" fill="rgba(204,204,220,0.26)"/><rect x="30.8" y="18.5" width="6.4" height="6.4" fill="rgba(204,204,220,0.11)"/><rect x="36.9" y="0.0" width="6.4" height="6.4" fill="rgba(204,204,220,0.08)"/><rect x="36.9" y="12.3" width="6.4" height="6.4" fill="rgba(204,204,220,0.82)"/><rect x="36.9" y="18.5" width="6.4" height="6.4" fill="rgba(204,204,220,0.27)"/><rect x="43.1" y="0.0" width="6.4" height="6.4" fill="rgba(204,204,220,0.15)"/><rect x="43.1" y="12.3" width="6.4" height="6.4" fill="rgba(204,204,220,0.28)"/><rect x="43.1" y="18.5" width="6.4" height="6.4" fill="rgba(204,204,220,0.27)"/><rect x="49.2" y="0.0" width="6.4" height="6.4" fill="rgba(204,204,220,0.32)"/><rect x="49.2" y="6.2" width="6.4" height="6.4" fill="rgba(204,204,220,0.25)"/><rect x="49.2" y="12.3" width="6.4" height="6.4" fill="rgba(204,204,220,0.36)"/><rect x="49.2" y="18.5" width="6.4" height="6.4" fill="rgba(204,204,220,0.10)"/><rect x="55.4" y="0.0" width="6.4" height="6.4" fill="rgba(204,204,220,0.24)"/><rect x="55.4" y="6.2" width="6.4" height="6.4" fill="rgba(204,204,220,0.63)"/><rect x="55.4" y="12.3" width="6.4" height="6.4" fill="rgba(204,204,220,0.31)"/><rect x="55.4" y="18.5" width="6.4" height="6.4" fill="rgba(204,204,220,0.12)"/><rect x="61.5" y="0.0" width="6.4" height="6.4" fill="rgba(204,204,220,0.42)"/><rect x="61.5" y="6.2" width="6.4" height="6.4" fill="rgba(204,204,220,0.70)"/><rect x="61.5" y="12.3" width="6.4" height="6.4" fill="rgba(204,204,220,0.70)"/><rect x="61.5" y="18.5" width="6.4" height="6.4" fill="rgba(204,204,220,0.39)"/><rect x="67.7" y="0.0" width="6.4" height="6.4" fill="rgba(204,204,220,0.11)"/><rect x="67.7" y="6.2" width="6.4" height="6.4" fill="rgba(204,204,220,0.43)"/><rect x="67.7" y="12.3" width="6.4" height="6.4" fill="rgba(204,204,220,0.32)"/><rect x="73.8" y="0.0" width="6.4" height="6.4" fill="rgba(204,204,220,0.07)"/><rect x="73.8" y="6.2" width="6.4" height="6.4" fill="rgba(204,204,220,0.12)"/><rect x="73.8" y="12.3" width="6.4" height="6.4" fill="rgba(204,204,220,0.32)"/><rect x="73.8" y="18.5" width="6.4" height="6.4" fill="rgba(204,204,220,0.23)"/><rect x="80.0" y="0.0" width="6.4" height="6.4" fill="rgba(204,204,220,0.31)"/><rect x="80.0" y="6.2" width="6.4" height="6.4" fill="rgba(204,204,220,0.62)"/><rect x="80.0" y="12.3" width="6.4" height="6.4" fill="rgba(204,204,220,0.63)"/><rect x="80.0" y="18.5" width="6.4" height="6.4" fill="rgba(204,204,220,0.15)"/><rect x="86.1" y="0.0" width="6.4" height="6.4" fill="rgba(204,204,220,0.07)"/><rect x="86.1" y="6.2" width="6.4" height="6.4" fill="rgba(204,204,220,0.12)"/><rect x="86.1" y="12.3" width="6.4" height="6.4" fill="rgba(204,204,220,0.13)"/><rect x="86.1" y="18.5" width="6.4" height="6.4" fill="rgba(204,204,220,0.20)"/><rect x="92.2" y="0.0" width="6.4" height="6.4" fill="rgba(204,204,220,0.38)"/><rect x="92.2" y="6.2" width="6.4" height="6.4" fill="rgba(204,204,220,0.44)"/><rect x="92.2" y="12.3" width="6.4" height="6.4" fill="rgba(204,204,220,0.61)"/><rect x="92.2" y="18.5" width="6.4" height="6.4" fill="rgba(204,204,220,0.40)"/><rect x="98.4" y="0.0" width="6.4" height="6.4" fill="rgba(204,204,220,0.16)"/><rect x="98.4" y="6.2" width="6.4" height="6.4" fill="rgba(204,204,220,0.41)"/><rect x="98.4" y="12.3" width="6.4" height="6.4" fill="rgba(204,204,220,0.38)"/><rect x="98.4" y="18.5" width="6.4" height="6.4" fill="rgba(204,204,220,0.20)"/><rect x="104.6" y="0.0" width="6.4" height="6.4" fill="rgba(204,204,220,0.07)"/><rect x="104.6" y="6.2" width="6.4" height="6.4" fill="rgba(204,204,220,0.52)"/><rect x="104.6" y="12.3" width="6.4" height="6.4" fill="rgba(204,204,220,0.25)"/><rect x="104.6" y="18.5" width="6.4" height="6.4" fill="rgba(204,204,220,0.31)"/><rect x="110.7" y="0.0" width="6.4" height="6.4" fill="rgba(204,204,220,0.20)"/><rect x="110.7" y="6.2" width="6.4" height="6.4" fill="rgba(204,204,220,0.39)"/><rect x="110.7" y="12.3" width="6.4" height="6.4" fill="rgba(204,204,220,0.89)"/><rect x="110.7" y="18.5" width="6.4" height="6.4" fill="rgba(204,204,220,0.38)"/><rect x="116.9" y="6.2" width="6.4" height="6.4" fill="rgba(204,204,220,0.09)"/><rect x="116.9" y="12.3" width="6.4" height="6.4" fill="rgba(204,204,220,0.47)"/><rect x="116.9" y="18.5" width="6.4" height="6.4" fill="rgba(204,204,220,0.23)"/><rect x="123.0" y="0.0" width="6.4" height="6.4" fill="rgba(204,204,220,0.21)"/><rect x="123.0" y="6.2" width="6.4" height="6.4" fill="rgba(204,204,220,0.47)"/><rect x="123.0" y="12.3" width="6.4" height="6.4" fill="rgba(204,204,220,0.35)"/><rect x="123.0" y="18.5" width="6.4" height="6.4" fill="rgba(204,204,220,0.11)"/><rect x="129.2" y="12.3" width="6.4" height="6.4" fill="rgba(204,204,220,0.70)"/><rect x="129.2" y="18.5" width="6.4" height="6.4" fill="rgba(204,204,220,0.27)"/><rect x="135.3" y="0.0" width="6.4" height="6.4" fill="rgba(204,204,220,0.33)"/><rect x="135.3" y="6.2" width="6.4" height="6.4" fill="rgba(204,204,220,0.31)"/><rect x="135.3" y="12.3" width="6.4" height="6.4" fill="rgba(204,204,220,0.62)"/><rect x="135.3" y="18.5" width="6.4" height="6.4" fill="rgba(204,204,220,0.33)"/></svg>
<div class="b " style="left:468px;top:745px;width:25px;height:7px;background:#5b96f0;border-radius:3.5px;"></div>
<svg class="b" style="left:507px;top:735.7px;" width="167" height="26" viewBox="0 0 167 26"><rect x="0.0" y="12.3" width="6.4" height="6.4" fill="rgba(204,204,220,0.18)"/><rect x="6.2" y="0.0" width="6.4" height="6.4" fill="rgba(204,204,220,0.21)"/><rect x="6.2" y="6.2" width="6.4" height="6.4" fill="rgba(204,204,220,0.58)"/><rect x="6.2" y="12.3" width="6.4" height="6.4" fill="rgba(204,204,220,0.31)"/><rect x="6.2" y="18.5" width="6.4" height="6.4" fill="rgba(204,204,220,0.34)"/><rect x="12.3" y="0.0" width="6.4" height="6.4" fill="rgba(204,204,220,0.20)"/><rect x="12.3" y="6.2" width="6.4" height="6.4" fill="rgba(204,204,220,0.37)"/><rect x="12.3" y="18.5" width="6.4" height="6.4" fill="rgba(204,204,220,0.18)"/><rect x="18.5" y="6.2" width="6.4" height="6.4" fill="rgba(204,204,220,0.41)"/><rect x="18.5" y="12.3" width="6.4" height="6.4" fill="rgba(204,204,220,0.11)"/><rect x="18.5" y="18.5" width="6.4" height="6.4" fill="rgba(204,204,220,0.15)"/><rect x="24.6" y="0.0" width="6.4" height="6.4" fill="rgba(204,204,220,0.24)"/><rect x="24.6" y="6.2" width="6.4" height="6.4" fill="rgba(204,204,220,0.28)"/><rect x="24.6" y="12.3" width="6.4" height="6.4" fill="rgba(204,204,220,0.45)"/><rect x="24.6" y="18.5" width="6.4" height="6.4" fill="rgba(204,204,220,0.26)"/><rect x="30.8" y="6.2" width="6.4" height="6.4" fill="rgba(204,204,220,0.47)"/><rect x="30.8" y="12.3" width="6.4" height="6.4" fill="rgba(204,204,220,0.24)"/><rect x="30.8" y="18.5" width="6.4" height="6.4" fill="rgba(204,204,220,0.14)"/><rect x="36.9" y="0.0" width="6.4" height="6.4" fill="rgba(204,204,220,0.23)"/><rect x="36.9" y="6.2" width="6.4" height="6.4" fill="rgba(204,204,220,0.47)"/><rect x="36.9" y="12.3" width="6.4" height="6.4" fill="rgba(204,204,220,0.65)"/><rect x="36.9" y="18.5" width="6.4" height="6.4" fill="rgba(204,204,220,0.42)"/><rect x="43.1" y="0.0" width="6.4" height="6.4" fill="rgba(204,204,220,0.21)"/><rect x="43.1" y="6.2" width="6.4" height="6.4" fill="rgba(204,204,220,0.34)"/><rect x="43.1" y="12.3" width="6.4" height="6.4" fill="rgba(204,204,220,0.36)"/><rect x="43.1" y="18.5" width="6.4" height="6.4" fill="rgba(204,204,220,0.26)"/><rect x="49.2" y="0.0" width="6.4" height="6.4" fill="rgba(204,204,220,0.19)"/><rect x="49.2" y="6.2" width="6.4" height="6.4" fill="rgba(204,204,220,0.32)"/><rect x="49.2" y="12.3" width="6.4" height="6.4" fill="rgba(204,204,220,0.63)"/><rect x="49.2" y="18.5" width="6.4" height="6.4" fill="rgba(204,204,220,0.26)"/><rect x="55.4" y="0.0" width="6.4" height="6.4" fill="rgba(204,204,220,0.42)"/><rect x="55.4" y="6.2" width="6.4" height="6.4" fill="rgba(204,204,220,0.25)"/><rect x="55.4" y="12.3" width="6.4" height="6.4" fill="rgba(204,204,220,0.53)"/><rect x="55.4" y="18.5" width="6.4" height="6.4" fill="rgba(204,204,220,0.46)"/><rect x="61.5" y="0.0" width="6.4" height="6.4" fill="rgba(204,204,220,0.07)"/><rect x="61.5" y="6.2" width="6.4" height="6.4" fill="rgba(204,204,220,0.12)"/><rect x="61.5" y="12.3" width="6.4" height="6.4" fill="rgba(204,204,220,0.42)"/><rect x="67.7" y="6.2" width="6.4" height="6.4" fill="rgba(204,204,220,0.37)"/><rect x="67.7" y="12.3" width="6.4" height="6.4" fill="rgba(204,204,220,0.44)"/><rect x="67.7" y="18.5" width="6.4" height="6.4" fill="rgba(204,204,220,0.28)"/><rect x="73.8" y="0.0" width="6.4" height="6.4" fill="rgba(204,204,220,0.19)"/><rect x="73.8" y="6.2" width="6.4" height="6.4" fill="rgba(204,204,220,0.33)"/><rect x="73.8" y="12.3" width="6.4" height="6.4" fill="rgba(204,204,220,0.09)"/><rect x="73.8" y="18.5" width="6.4" height="6.4" fill="rgba(204,204,220,0.25)"/><rect x="80.0" y="0.0" width="6.4" height="6.4" fill="rgba(204,204,220,0.12)"/><rect x="80.0" y="6.2" width="6.4" height="6.4" fill="rgba(204,204,220,0.85)"/><rect x="80.0" y="12.3" width="6.4" height="6.4" fill="rgba(204,204,220,0.41)"/><rect x="80.0" y="18.5" width="6.4" height="6.4" fill="rgba(204,204,220,0.27)"/><rect x="86.1" y="0.0" width="6.4" height="6.4" fill="rgba(204,204,220,0.40)"/><rect x="86.1" y="6.2" width="6.4" height="6.4" fill="rgba(204,204,220,0.17)"/><rect x="86.1" y="12.3" width="6.4" height="6.4" fill="rgba(204,204,220,0.44)"/><rect x="86.1" y="18.5" width="6.4" height="6.4" fill="rgba(204,204,220,0.29)"/><rect x="92.2" y="6.2" width="6.4" height="6.4" fill="rgba(204,204,220,0.21)"/><rect x="92.2" y="12.3" width="6.4" height="6.4" fill="rgba(204,204,220,0.45)"/><rect x="98.4" y="0.0" width="6.4" height="6.4" fill="rgba(204,204,220,0.17)"/><rect x="98.4" y="12.3" width="6.4" height="6.4" fill="rgba(204,204,220,0.27)"/><rect x="98.4" y="18.5" width="6.4" height="6.4" fill="rgba(204,204,220,0.26)"/><rect x="104.6" y="6.2" width="6.4" height="6.4" fill="rgba(204,204,220,0.65)"/><rect x="104.6" y="12.3" width="6.4" height="6.4" fill="rgba(204,204,220,0.56)"/><rect x="104.6" y="18.5" width="6.4" height="6.4" fill="rgba(204,204,220,0.37)"/><rect x="110.7" y="0.0" width="6.4" height="6.4" fill="rgba(204,204,220,0.07)"/><rect x="110.7" y="12.3" width="6.4" height="6.4" fill="rgba(204,204,220,0.39)"/><rect x="110.7" y="18.5" width="6.4" height="6.4" fill="rgba(204,204,220,0.08)"/><rect x="116.9" y="0.0" width="6.4" height="6.4" fill="rgba(204,204,220,0.11)"/><rect x="116.9" y="6.2" width="6.4" height="6.4" fill="rgba(204,204,220,0.43)"/><rect x="116.9" y="12.3" width="6.4" height="6.4" fill="rgba(204,204,220,0.41)"/><rect x="116.9" y="18.5" width="6.4" height="6.4" fill="rgba(204,204,220,0.08)"/><rect x="123.0" y="0.0" width="6.4" height="6.4" fill="rgba(204,204,220,0.23)"/><rect x="123.0" y="6.2" width="6.4" height="6.4" fill="rgba(204,204,220,0.29)"/><rect x="123.0" y="12.3" width="6.4" height="6.4" fill="rgba(204,204,220,0.37)"/><rect x="129.2" y="0.0" width="6.4" height="6.4" fill="rgba(204,204,220,0.16)"/><rect x="129.2" y="6.2" width="6.4" height="6.4" fill="rgba(204,204,220,0.20)"/><rect x="129.2" y="18.5" width="6.4" height="6.4" fill="rgba(204,204,220,0.24)"/><rect x="135.3" y="0.0" width="6.4" height="6.4" fill="rgba(204,204,220,0.31)"/><rect x="135.3" y="6.2" width="6.4" height="6.4" fill="rgba(204,204,220,0.08)"/><rect x="135.3" y="12.3" width="6.4" height="6.4" fill="rgba(204,204,220,0.66)"/><rect x="141.5" y="0.0" width="6.4" height="6.4" fill="rgba(204,204,220,0.22)"/><rect x="141.5" y="6.2" width="6.4" height="6.4" fill="rgba(204,204,220,0.32)"/><rect x="141.5" y="12.3" width="6.4" height="6.4" fill="rgba(204,204,220,0.52)"/><rect x="141.5" y="18.5" width="6.4" height="6.4" fill="rgba(204,204,220,0.45)"/><rect x="147.6" y="6.2" width="6.4" height="6.4" fill="rgba(204,204,220,0.30)"/><rect x="147.6" y="12.3" width="6.4" height="6.4" fill="rgba(204,204,220,0.16)"/><rect x="153.8" y="6.2" width="6.4" height="6.4" fill="rgba(204,204,220,0.12)"/><rect x="153.8" y="12.3" width="6.4" height="6.4" fill="rgba(204,204,220,0.18)"/><rect x="153.8" y="18.5" width="6.4" height="6.4" fill="rgba(204,204,220,0.10)"/><rect x="159.9" y="6.2" width="6.4" height="6.4" fill="rgba(204,204,220,0.15)"/></svg>
<div class="b " style="left:681px;top:786px;width:360px;height:6px;background:#3d3e45;border-radius:3px;"></div>
<div class="b " style="left:3px;top:793px;width:1737px;height:94px;background:#111217;"></div>
<svg class="b" style="left:54.3px;top:834.3px;overflow:visible" width="40" height="40" viewBox="-20.0 -20.0 40 40" fill="none" stroke="#ccccdc" stroke-width="2.2" stroke-linecap="round" stroke-linejoin="round"><ellipse cx="0" cy="-8" rx="8.7" ry="3.1"/><path d="M-8.7,-8 V8.1 C-8.7,12.2 8.7,12.2 8.7,8.1 V-8"/><path d="M-8.7,0 C-8.7,4.1 8.7,4.1 8.7,0"/><path d="M-4.5,-0.4 h0.1 M-4.5,6.6 h0.1" stroke-width="2.5"/></svg>
<div class="t" id="t56" style="top:839.00px;font-size:26.33px;color:#ccccdc;-webkit-text-stroke-width:0.45px;letter-spacing:0.310px;left:102.98px;">Queries</div>
<div class="b " style="left:212px;top:837px;width:38px;height:33px;background:#24252b;border-radius:17px;"></div>
<div class="t" id="t57" style="top:843.00px;font-size:22.57px;color:#c3c3d2;-webkit-text-stroke-width:0.45px;left:-68.80px;width:600px;text-align:center;">1</div>
<svg class="b" style="left:301.3px;top:834.2px;overflow:visible" width="40" height="40" viewBox="-20.0 -20.0 40 40" fill="none" stroke="#8e8e9b" stroke-width="2.2" stroke-linecap="round" stroke-linejoin="round"><g transform="rotate(0)"><path d="M2.1,-10.9 Q-4.8,-10.6 -9.2,-6.2"/><path d="M-9.8,-11.6 V-5.6 H-3.6"/></g><g transform="rotate(90)"><path d="M2.1,-10.9 Q-4.8,-10.6 -9.2,-6.2"/><path d="M-9.8,-11.6 V-5.6 H-3.6"/></g><g transform="rotate(180)"><path d="M2.1,-10.9 Q-4.8,-10.6 -9.2,-6.2"/><path d="M-9.8,-11.6 V-5.6 H-3.6"/></g><g transform="rotate(270)"><path d="M2.1,-10.9 Q-4.8,-10.6 -9.2,-6.2"/><path d="M-9.8,-11.6 V-5.6 H-3.6"/></g></svg>
<div class="t" id="t58" style="top:839.00px;font-size:26.33px;color:#8e8e9b;-webkit-text-stroke-width:0.45px;letter-spacing:0.611px;left:350.63px;">Transformations</div>
<div class="b " style="left:563px;top:837px;width:43px;height:33px;background:#24252b;border-radius:17px;"></div>
<div class="t" id="t59" style="top:843.00px;font-size:22.57px;color:#8e8e9b;-webkit-text-stroke-width:0.45px;left:284.60px;width:600px;text-align:center;">0</div>
<svg class="b" style="left:658.4px;top:834.0px;overflow:visible" width="40" height="40" viewBox="-20.0 -20.0 40 40" fill="none" stroke="#8e8e9b" stroke-width="2.1" stroke-linecap="round" stroke-linejoin="round"><path d="M0,-11.4 V-9"/><path d="M-6.2,3.4 V-2 C-6.2,-9.5 6.2,-9.5 6.2,-2 V3.4"/><path d="M-6.2,3.4 H6.2 L8.5,6.2 Q8.9,7.4 7.6,7.4 H-7.6 Q-8.9,7.4 -8.5,6.2 Z"/><path d="M-3.4,8.9 C-2.6,11.7 2.6,11.7 3.4,8.9"/></svg>
<div class="t" id="t60" style="top:839.00px;font-size:26.33px;color:#8e8e9b;-webkit-text-stroke-width:0.45px;letter-spacing:0.465px;left:708.17px;">Alert</div>
<div class="b " style="left:779px;top:837px;width:43px;height:33px;background:#24252b;border-radius:17px;"></div>
<div class="t" id="t61" style="top:843.00px;font-size:22.57px;color:#8e8e9b;-webkit-text-stroke-width:0.45px;left:500.60px;width:600px;text-align:center;">0</div>
<div class="b " style="left:31px;top:883.6px;width:248px;height:3.699999999999932px;background:linear-gradient(90deg,#f89a48 0%,#f26a3f 100%);border-radius:1.6px;"></div>
<div class="b " style="left:1748px;top:99px;width:604px;height:1345px;background:#1a1b1f;border:1px solid #2e2f36;border-radius:9px 0 0 0;"></div>
<div class="b " style="left:1744px;top:567px;width:7px;height:360px;background:#3f4047;border-radius:4px;"></div>
<svg class="b" style="left:1774px;top:118px;" width="48" height="46" viewBox="0 0 48 46"><defs><linearGradient id="tsa" x1="0" y1="0" x2="0" y2="1"><stop offset="0" stop-color="#486db8"/><stop offset="0.5" stop-color="#2d4477"/><stop offset="1" stop-color="#1d2538" stop-opacity="0.15"/></linearGradient><linearGradient id="tsl" x1="0" y1="0" x2="1" y2="0"><stop offset="0" stop-color="#f2cc0c"/><stop offset="1" stop-color="#ff9830"/></linearGradient></defs><path d="M4.3,25.5 L13.9,18.1 L20.2,20.4 L28.3,14.4 L35.4,19.9 L42.5,12.3 V40.6 H4.3 Z" fill="url(#tsa)"/><path d="M4.3,25.5 L13.9,18.1 L20.2,20.4 L28.3,14.4 L35.4,19.9 L42.5,12.3" fill="none" stroke="#7fabf3" stroke-width="1.6"/><path d="M4.3,14.4 L13.9,11.6 L20.2,14.9 L28.3,6.8 L35.4,9.3 L42.5,4.8" fill="none" stroke="url(#tsl)" stroke-width="2"/></svg>
<div class="t" id="t62" style="top:127.00px;font-size:26.33px;color:#ccccdc;-webkit-text-stroke-width:0.8px;letter-spacing:0.637px;left:1832.81px;">Time series</div>
<div class="t" id="t63" style="top:131.00px;font-size:22.57px;color:#6e9fff;-webkit-text-stroke-width:0.8px;letter-spacing:0.543px;left:2002.55px;">Change</div>
<div class="b " style="left:2180px;top:114px;width:63px;height:58px;background:#27282e;border-radius:10px;"></div>
<svg class="b" style="left:2191.3px;top:123.0px;overflow:visible" width="40" height="40" viewBox="-20.0 -20.0 40 40" fill="none" stroke="#ccccdc" stroke-width="2.5" stroke-linecap="round" stroke-linejoin="round"><path d="M-10.5,-12.5 V-7.2 M-10.5,-0.4 V13"/><circle cx="-10.5" cy="-3.8" r="3.2"/><path d="M0,-12.5 V2.2 M0,9 V13"/><circle cx="0" cy="5.6" r="3.2"/><path d="M9.5,-12.5 V-4.7 M9.5,2.1 V13"/><circle cx="9.5" cy="-1.3" r="3.2"/></svg>
<div class="b " style="left:2257px;top:114px;width:56px;height:58px;background:#27282e;border-radius:10px;"></div>
<svg class="b" style="left:2265.0px;top:123.0px;overflow:visible" width="40" height="40" viewBox="-20.0 -20.0 40 40" fill="none" stroke="#ccccdc" stroke-width="2.4" stroke-linecap="round" stroke-linejoin="round"><circle cx="-1.6" cy="-1.4" r="10.2"/><path d="M6,6.4 L11.6,12"/></svg>
<div class="b " style="left:1750px;top:186px;width:592px;height:1px;background:#2e2f36;"></div>
<div class="t" id="t64" style="top:209.00px;font-size:26.33px;color:#ccccdc;-webkit-text-stroke-width:0.8px;letter-spacing:0.705px;left:1768.84px;">Panel options</div>
<svg class="b" style="left:2272.8px;top:203.3px;overflow:visible" width="40" height="40" viewBox="-20.0 -20.0 40 40" fill="none" stroke="#ccccdc" stroke-width="2.6" stroke-linecap="round" stroke-linejoin="round"><path d="M-5.4,2.9700000000000006 L0,-2.9700000000000006 L5.4,2.9700000000000006"/></svg>
<div class="t" id="t65" style="top:277.00px;font-size:22.57px;color:#ccccdc;-webkit-text-stroke-width:0.8px;letter-spacing:1.081px;left:1777.89px;">Title</div>
<div class="b " style="left:1778px;top:308px;width:535px;height:57px;background:#111217;border:1px solid #303138;border-radius:9px;"></div>
<div class="t" id="t66" style="top:324.00px;font-size:26.33px;color:#ccccdc;-webkit-text-stroke-width:0.45px;letter-spacing:0.359px;left:1792.57px;">New panel</div>
<div class="t" id="t67" style="top:397.00px;font-size:22.57px;color:#ccccdc;-webkit-text-stroke-width:0.8px;letter-spacing:1.036px;left:1776.55px;">Description</div>
<div class="b " style="left:1778px;top:428px;width:535px;height:89px;background:#111217;border:1px solid #303138;border-radius:9px;"></div>
<svg class="b" style="left:2296px;top:500px;" width="16" height="16" viewBox="0 0 16 16"><path d="M2,14 L14,2 M9.5,14 L14,9.5" stroke="#8e8e9b" stroke-width="1.4" fill="none"/></svg>
<div class="t" id="t68" style="top:549.00px;font-size:22.57px;color:#ccccdc;-webkit-text-stroke-width:0.8px;letter-spacing:0.718px;left:1777.89px;">Transparent background</div>
<div class="b " style="left:1778px;top:580px;width:57px;height:28px;background:#111217;border:1px solid #303138;border-radius:14px;"></div>
<div class="b " style="left:1781px;top:583px;width:22px;height:22px;background:#8f909d;border-radius:11px;"></div>
<div class="b " style="left:1778px;top:637px;width:535px;height:1px;background:#2e2f36;"></div>
<div class="t" id="t69" style="top:660.00px;font-size:26.33px;color:#8e8e9b;-webkit-text-stroke-width:0.8px;letter-spacing:0.529px;left:1776.24px;">Panel links</div>
<svg class="b" style="left:2265.0px;top:654.5px;overflow:visible" width="40" height="40" viewBox="-20.0 -20.0 40 40" fill="none" stroke="#ccccdc" stroke-width="2.5" stroke-linecap="round" stroke-linejoin="round"><path d="M-5.3,-2.915 L0,2.915 L5.3,-2.915"/></svg>
<div class="b " style="left:1778px;top:710px;width:535px;height:1px;background:#2e2f36;"></div>
<div class="t" id="t70" style="top:733.00px;font-size:26.33px;color:#8e8e9b;-webkit-text-stroke-width:0.8px;letter-spacing:0.631px;left:1776.24px;">Repeat options</div>
<svg class="b" style="left:2265.0px;top:727.5px;overflow:visible" width="40" height="40" viewBox="-20.0 -20.0 40 40" fill="none" stroke="#ccccdc" stroke-width="2.5" stroke-linecap="round" stroke-linejoin="round"><path d="M-5.3,-2.915 L0,2.915 L5.3,-2.915"/></svg>
<div class="b " style="left:1751px;top:798px;width:591px;height:1px;background:#2e2f36;"></div>
<div class="t" id="t71" style="top:821.00px;font-size:26.33px;color:#ccccdc;-webkit-text-stroke-width:0.8px;letter-spacing:1.115px;left:1771.21px;">Tooltip</div>
<svg class="b" style="left:2272.8px;top:815.3px;overflow:visible" width="40" height="40" viewBox="-20.0 -20.0 40 40" fill="none" stroke="#ccccdc" stroke-width="2.6" stroke-linecap="round" stroke-linejoin="round"><path d="M-5.4,2.9700000000000006 L0,-2.9700000000000006 L5.4,2.9700000000000006"/></svg>
<div class="t" id="t72" style="top:888.00px;font-size:22.57px;color:#ccccdc;-webkit-text-stroke-width:0.8px;letter-spacing:0.862px;left:1778.19px;">Tooltip mode</div>
<div class="b " style="left:1778px;top:919px;width:375px;height:56px;border:1px solid #36373e;border-radius:10px;"></div>
<div class="b " style="left:1782px;top:924px;width:134px;height:46px;background:#2e2f36;border-radius:7px;"></div>
<div class="t" id="t73" style="top:933.00px;font-size:26.33px;color:#ccccdc;-webkit-text-stroke-width:0.8px;letter-spacing:0.676px;left:1811.00px;">Single</div>
<div class="t" id="t74" style="top:933.00px;font-size:26.33px;color:#8e8e9b;-webkit-text-stroke-width:0.45px;letter-spacing:0.652px;left:1945.77px;">All</div>
<div class="t" id="t75" style="top:933.00px;font-size:26.33px;color:#8e8e9b;-webkit-text-stroke-width:0.45px;letter-spacing:1.137px;left:2031.67px;">Hidden</div>
<div class="t" id="t76" style="top:1007.00px;font-size:22.57px;color:#ccccdc;-webkit-text-stroke-width:0.8px;letter-spacing:0.777px;left:1776.85px;">Hover proximity</div>
<div class="t" id="t77" style="top:1038.00px;font-size:22.57px;color:#8e8e9b;-webkit-text-stroke-width:0.45px;letter-spacing:0.589px;left:1776.67px;">How close the cursor must be to a point to trigger</div>
<div class="t" id="t78" style="top:1064.00px;font-size:22.57px;color:#8e8e9b;-webkit-text-stroke-width:0.45px;letter-spacing:0.515px;left:1778.18px;">the tooltip, in pixels</div>
<div class="b " style="left:1778px;top:1096px;width:535px;height:57px;background:#111217;border:1px solid #303138;border-radius:9px;"></div>
<div class="t" id="t79" style="top:1186.00px;font-size:22.57px;color:#ccccdc;-webkit-text-stroke-width:0.8px;letter-spacing:1.182px;left:1776.85px;">Max width</div>
<div class="b " style="left:1778px;top:1216px;width:535px;height:58px;background:#111217;border:1px solid #303138;border-radius:9px;"></div>
<div class="b " style="left:1751px;top:1317px;width:591px;height:1px;background:#2e2f36;"></div>
<div class="t" id="t80" style="top:1340.00px;font-size:26.33px;color:#ccccdc;-webkit-text-stroke-width:0.8px;letter-spacing:1.120px;left:1769.24px;">Legend</div>
<svg class="b" style="left:2272.8px;top:1334.8px;overflow:visible" width="40" height="40" viewBox="-20.0 -20.0 40 40" fill="none" stroke="#ccccdc" stroke-width="2.6" stroke-linecap="round" stroke-linejoin="round"><path d="M-5.4,2.9700000000000006 L0,-2.9700000000000006 L5.4,2.9700000000000006"/></svg>
<div class="t" id="t81" style="top:1406.00px;font-size:22.57px;color:#ccccdc;-webkit-text-stroke-width:0.8px;letter-spacing:0.795px;left:1778.60px;">Visibility</div>
<svg class="b" style="left:2292px;top:1364px;" width="50" height="60" viewBox="0 0 50 60"><path d="M50,8.5 C49.3,24 47,35 40.6,44.3 C34,52.5 24,57.5 13,59.6 L13,60 L50,60 Z" fill="#c6c6c6"/><path d="M50,23 C49.6,37 48,48 41.3,60 L50,60 Z" fill="#000"/></svg>
</div>
</body></html>
